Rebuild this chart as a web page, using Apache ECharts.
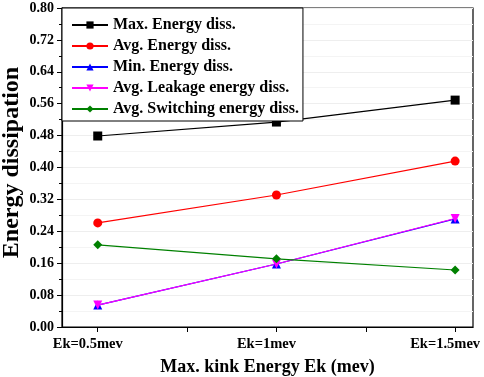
<!DOCTYPE html>
<html>
<head>
<meta charset="utf-8">
<script src="https://cdn.jsdelivr.net/npm/echarts@6/dist/echarts.min.js"></script>
<style>html,body{margin:0;padding:0;background:#fff}#chart{width:484px;height:377px}</style>
</head>
<body>
<div id="chart"></div>
<script>
const xValues = [0.5, 1.0, 1.5];
const xLabels = ['Ek=0.5mev', 'Ek=1mev', 'Ek=1.5mev'];
const maxEnergy = [0.479, 0.514, 0.569];
const avgEnergy = [0.261, 0.331, 0.416];
const minEnergy = [0.055, 0.158, 0.271];
const leakEnergy = [0.055, 0.158, 0.272];
const switchEnergy = [0.206, 0.171, 0.143];

const font = 'Liberation Serif';
const pair = (vals) => xValues.map((x, i) => [x, vals[i]]);

function makeSeries(name, vals, color, symbol) {
  return {
    name: name,
    type: 'line',
    data: pair(vals),
    symbol: symbol,
    symbolSize: 9,
    itemStyle: { color: color },
    lineStyle: { color: color, width: 1.2 },
    z: 3
  };
}

const chart = echarts.init(document.getElementById('chart'));
chart.setOption({
  animation: false,
  grid: {
    left: 62, right: 11, top: 8, bottom: 50,
    outerBoundsMode: 'none',
    show: true, borderColor: '#000', borderWidth: 1.2
  },
  legend: {
    left: 62, top: 8,
    orient: 'vertical',
    backgroundColor: '#fff',
    borderColor: '#000',
    borderWidth: 1,
    borderRadius: 0,
    padding: [9, 4, 4, 9],
    itemGap: 5,
    itemWidth: 36,
    itemHeight: 9,
    textStyle: { fontFamily: font, fontWeight: 'bold', fontSize: 16, color: '#000' },
    data: ['Max. Energy diss.', 'Avg. Energy diss.', 'Min. Energy diss.', 'Avg. Leakage energy diss.', 'Avg. Switching energy diss.']
  },
  xAxis: {
    type: 'value',
    min: 0.4,
    max: 1.55,
    name: 'Max. kink Energy Ek (mev)',
    nameLocation: 'middle',
    nameGap: 31,
    nameMoveOverlap: false,
    nameTextStyle: { fontFamily: font, fontWeight: 'bold', fontSize: 18, color: '#000' },
    axisLine: { lineStyle: { color: '#000', width: 1.2 } },
    axisTick: { customValues: [0.5, 0.75, 1.0, 1.25, 1.5], length: 5, lineStyle: { color: '#000' } },
    axisLabel: {
      customValues: xValues,
      formatter: (v) => '{t|' + (xLabels[xValues.indexOf(v)] || '') + '}',
      rich: { t: { fontFamily: font, fontWeight: 'bold', fontSize: 14.5, color: '#000', padding: [0, 20, 0, 0] } },
      margin: 10
    },
    splitLine: { show: false }
  },
  yAxis: {
    type: 'value',
    min: 0,
    max: 0.8,
    interval: 0.08,
    name: 'Energy dissipation',
    nameLocation: 'middle',
    nameGap: 38,
    nameMoveOverlap: false,
    nameTextStyle: { fontFamily: font, fontWeight: 'bold', fontSize: 24, color: '#000', padding: [0, 0, 0, 10] },
    axisLine: { show: true, lineStyle: { color: '#000', width: 1.2 } },
    axisTick: { length: 5, lineStyle: { color: '#000' } },
    minorTick: { show: true, splitNumber: 2, length: 3, lineStyle: { color: '#000' } },
    axisLabel: { formatter: (v) => v.toFixed(2), fontFamily: font, fontWeight: 'bold', fontSize: 14, color: '#000', margin: 8 },
    splitLine: { show: true, lineStyle: { color: '#eeeeee', width: 1 } },
    minorSplitLine: { show: true, lineStyle: { color: '#f4f4f4', width: 1 } }
  },
  series: [
    makeSeries('Max. Energy diss.', maxEnergy, '#000000', 'rect'),
    makeSeries('Avg. Energy diss.', avgEnergy, '#ff0000', 'circle'),
    makeSeries('Min. Energy diss.', minEnergy, '#0000ff', 'triangle'),
    makeSeries('Avg. Leakage energy diss.', leakEnergy, '#ff00ff', 'path://M0,0 L10,0 L5,9 Z'),
    makeSeries('Avg. Switching energy diss.', switchEnergy, '#008000', 'diamond')
  ]
});
</script>
</body>
</html>
